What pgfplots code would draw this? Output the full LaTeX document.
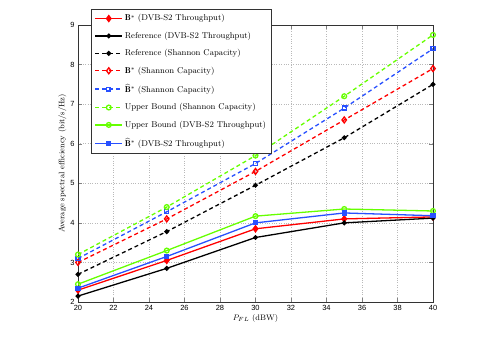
\documentclass[border=0pt]{standalone}
\usepackage{fontspec}
\setsansfont{Liberation Sans}
\usepackage{amsmath,amssymb}
\usepackage{pgfplots}
\pgfplotsset{compat=1.18}
\definecolor{mgreen}{RGB}{102,255,0}
\definecolor{mblue}{RGB}{40,80,255}
\begin{document}
\begin{tikzpicture}
\begin{axis}[
    at={(0,0)}, anchor=south west,
    scale only axis, width=355bp, height=277bp,
    xmin=20, xmax=40, ymin=2, ymax=9,
    xtick={20,22,...,40}, ytick={2,...,9},
    grid=major,
    grid style={dotted, gray!55, line width=0.5pt},
    axis line style={black!80},
    tick align=inside,
    ticklabel style={font=\sffamily\fontsize{7.5}{8}\selectfont},
    /pgf/number format/assume math mode=true,
    xlabel={$P_{FL}$ (dBW)},
    ylabel={Average spectral efficiency (bit/s/Hz)},
    label style={font=\fontsize{8}{9}\selectfont},
    xlabel style={yshift=3pt},
    ylabel style={yshift=-3pt},
    legend style={at={(0.037,1.058)}, anchor=north west,
      font=\fontsize{8.5}{9}\selectfont, draw=black!80,
      row sep=5.6pt, inner sep=3.5pt, fill=white},
    legend cell align=left,
    legend image code/.code={\draw[mark repeat=2,mark phase=2] plot coordinates {(0cm,0cm) (0.47cm,0cm) (0.94cm,0cm)};},
    every axis plot/.append style={line width=1.3pt},
    dashes/.style={dash pattern=on 4pt off 3pt},
]
% B* DVB-S2 throughput
\addplot[red, mark=diamond*, mark size=3pt] coordinates {(20,2.30) (25,3.05) (30,3.85) (35,4.10) (40,4.15)};
\addlegendentry{$\mathbf{B}^*$ (DVB-S2 Throughput)}
% Reference DVB-S2
\addplot[black, mark=*, mark size=1.8pt] coordinates {(20,2.15) (25,2.85) (30,3.63) (35,4.00) (40,4.12)};
\addlegendentry{Reference (DVB-S2 Throughput)}
% Reference Shannon
\addplot[black, dashes, mark=*, mark size=1.8pt, mark options={solid}] coordinates {(20,2.70) (25,3.78) (30,4.95) (35,6.15) (40,7.50)};
\addlegendentry{Reference (Shannon Capacity)}
% B* Shannon
\addplot[red, dashes, mark=diamond, mark size=3pt, mark options={solid}] coordinates {(20,3.00) (25,4.10) (30,5.30) (35,6.60) (40,7.90)};
\addlegendentry{$\mathbf{B}^*$ (Shannon Capacity)}
% Bhat* Shannon
\addplot[mblue, dashes, mark=square, mark size=2pt, mark options={solid}] coordinates {(20,3.10) (25,4.28) (30,5.50) (35,6.90) (40,8.40)};
\addlegendentry{$\widehat{\mathbf{B}}^*$ (Shannon Capacity)}
% Upper bound Shannon
\addplot[mgreen, dashes, mark=o, mark size=2.4pt, mark options={solid}] coordinates {(20,3.20) (25,4.40) (30,5.70) (35,7.20) (40,8.75)};
\addlegendentry{Upper Bound (Shannon Capacity)}
% Upper bound DVB-S2
\addplot[mgreen, mark=o, mark size=2.4pt] coordinates {(20,2.45) (25,3.30) (30,4.17) (35,4.35) (40,4.30)};
\addlegendentry{Upper Bound (DVB-S2 Throughput)}
% Bhat* DVB-S2
\addplot[mblue, mark=square*, mark size=2pt] coordinates {(20,2.35) (25,3.15) (30,4.00) (35,4.25) (40,4.18)};
\addlegendentry{$\widehat{\mathbf{B}}^*$ (DVB-S2 Throughput)}
\end{axis}
\pgfresetboundingbox
\path[use as bounding box] (-78bp,-39bp) rectangle (401bp,302bp);
\end{tikzpicture}
\end{document}
